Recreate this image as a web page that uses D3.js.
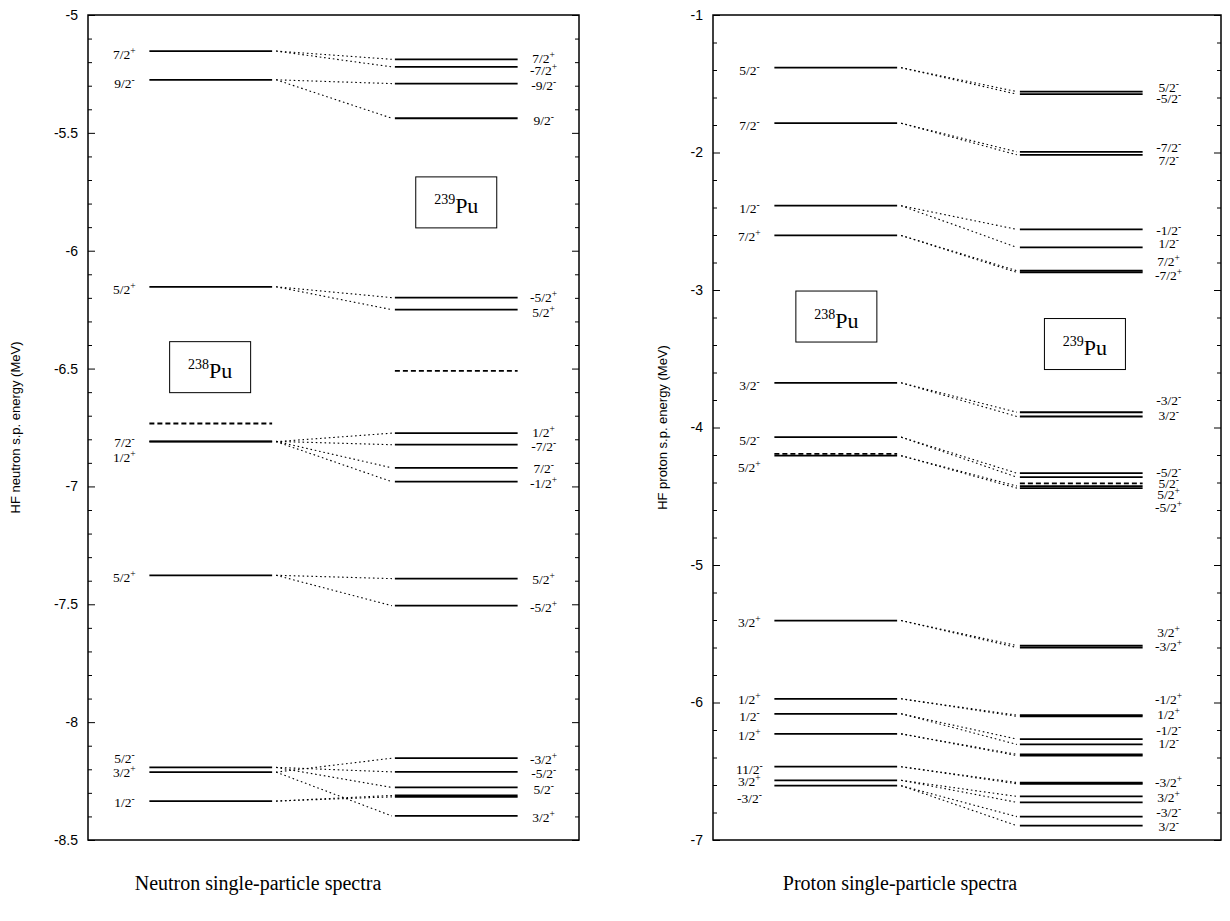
<!DOCTYPE html>
<html>
<head>
<meta charset="utf-8">
<script src="https://cdn.jsdelivr.net/npm/d3@7"></script>
<style>
  html, body { margin: 0; padding: 0; background: #fff; }
  svg { display: block; }
</style>
</head>
<body>
<svg id="chart" width="1230" height="921"></svg>
<script>
// ---- Neutron single-particle levels (MeV) ----
// e: level energy, j: angular momentum label, p: parity sign, lab: energy where the label sits
const neutron238 = [
  { e: -5.153, j: "7/2", p: "+", lab: -5.166 },
  { e: -5.275, j: "9/2", p: "-", lab: -5.290 },
  { e: -6.153, j: "5/2", p: "+", lab: -6.162 },
  { e: -6.809, j: "7/2", p: "-", lab: -6.810 },
  { e: -6.810, j: "1/2", p: "+", lab: -6.875 },
  { e: -7.377, j: "5/2", p: "+", lab: -7.384 },
  { e: -8.192, j: "5/2", p: "-", lab: -8.150 },
  { e: -8.212, j: "3/2", p: "+", lab: -8.212 },
  { e: -8.335, j: "1/2", p: "-", lab: -8.340 }
];
// src: index of the parent level in neutron238
const neutron239 = [
  { e: -5.188, j: "7/2",  p: "+", lab: -5.184, src: 0 },
  { e: -5.220, j: "-7/2", p: "+", lab: -5.232, src: 0 },
  { e: -5.291, j: "-9/2", p: "-", lab: -5.297, src: 1 },
  { e: -5.438, j: "9/2",  p: "-", lab: -5.444, src: 1 },
  { e: -6.199, j: "-5/2", p: "+", lab: -6.196, src: 2 },
  { e: -6.250, j: "5/2",  p: "+", lab: -6.258, src: 2 },
  { e: -6.774, j: "1/2",  p: "+", lab: -6.768, src: 4 },
  { e: -6.823, j: "-7/2", p: "-", lab: -6.828, src: 3 },
  { e: -6.921, j: "7/2",  p: "-", lab: -6.922, src: 3 },
  { e: -6.980, j: "-1/2", p: "+", lab: -6.984, src: 4 },
  { e: -7.391, j: "5/2",  p: "+", lab: -7.392, src: 5 },
  { e: -7.506, j: "-5/2", p: "+", lab: -7.510, src: 5 },
  { e: -8.153, j: "-3/2", p: "+", lab: -8.155, src: 7 },
  { e: -8.211, j: "-5/2", p: "-", lab: -8.216, src: 6 },
  { e: -8.277, j: "5/2",  p: "-", lab: -8.284, src: 6 },
  { e: -8.311, j: null,   p: null, lab: null,   src: 8 },
  { e: -8.317, j: null,   p: null, lab: null,   src: 8 },
  { e: -8.398, j: "3/2",  p: "+", lab: -8.402, src: 7 }
];
const neutronFermi238 = [-6.733];
const neutronFermi239 = [-6.510];
const neutronTicks = [-5, -5.5, -6, -6.5, -7, -7.5, -8, -8.5];

// ---- Proton single-particle levels (MeV) ----
const proton238 = [
  { e: -1.383, j: "5/2",  p: "-", lab: -1.400 },
  { e: -1.787, j: "7/2",  p: "-", lab: -1.800 },
  { e: -2.387, j: "1/2",  p: "-", lab: -2.405 },
  { e: -2.603, j: "7/2",  p: "+", lab: -2.608 },
  { e: -3.675, j: "3/2",  p: "-", lab: -3.693 },
  { e: -4.070, j: "5/2",  p: "-", lab: -4.092 },
  { e: -4.205, j: "5/2",  p: "+", lab: -4.290 },
  { e: -5.404, j: "3/2",  p: "+", lab: -5.412 },
  { e: -5.973, j: "1/2",  p: "+", lab: -5.975 },
  { e: -6.082, j: "1/2",  p: "-", lab: -6.097 },
  { e: -6.228, j: "1/2",  p: "+", lab: -6.236 },
  { e: -6.467, j: "11/2", p: "-", lab: -6.480 },
  { e: -6.566, j: "3/2",  p: "+", lab: -6.568 },
  { e: -6.605, j: "-3/2", p: "-", lab: -6.692 }
];
const proton239 = [
  { e: -1.557, j: "5/2",  p: "-", lab: -1.522, src: 0 },
  { e: -1.576, j: "-5/2", p: "-", lab: -1.605, src: 0 },
  { e: -1.995, j: "-7/2", p: "-", lab: -1.960, src: 1 },
  { e: -2.017, j: "7/2",  p: "-", lab: -2.051, src: 1 },
  { e: -2.559, j: "-1/2", p: "-", lab: -2.560, src: 2 },
  { e: -2.690, j: "1/2",  p: "-", lab: -2.661, src: 2 },
  { e: -2.860, j: "7/2",  p: "+", lab: -2.790, src: 3 },
  { e: -2.872, j: "-7/2", p: "+", lab: -2.888, src: 3 },
  { e: -3.889, j: "-3/2", p: "-", lab: -3.802, src: 4 },
  { e: -3.920, j: "3/2",  p: "-", lab: -3.911, src: 4 },
  { e: -4.332, j: "-5/2", p: "-", lab: -4.321, src: 5 },
  { e: -4.361, j: "5/2",  p: "-", lab: -4.405, src: 5 },
  { e: -4.426, j: "5/2",  p: "+", lab: -4.486, src: 6 },
  { e: -4.441, j: "-5/2", p: "+", lab: -4.577, src: 6 },
  { e: -5.586, j: "3/2",  p: "+", lab: -5.488, src: 7 },
  { e: -5.600, j: "-3/2", p: "+", lab: -5.586, src: 7 },
  { e: -6.092, j: "-1/2", p: "+", lab: -5.975, src: 8 },
  { e: -6.101, j: "1/2",  p: "+", lab: -6.084, src: 8 },
  { e: -6.266, j: "-1/2", p: "-", lab: -6.199, src: 9 },
  { e: -6.305, j: "1/2",  p: "-", lab: -6.293, src: 9 },
  { e: -6.377, j: null,   p: null, lab: null,  src: 10 },
  { e: -6.386, j: null,   p: null, lab: null,  src: 10 },
  { e: -6.582, j: null,   p: null, lab: null,  src: 11 },
  { e: -6.591, j: null,   p: null, lab: null,  src: 11 },
  { e: -6.683, j: "-3/2", p: "+", lab: -6.578, src: 12 },
  { e: -6.726, j: "3/2",  p: "+", lab: -6.688, src: 12 },
  { e: -6.830, j: "-3/2", p: "-", lab: -6.793, src: 13 },
  { e: -6.896, j: "3/2",  p: "-", lab: -6.895, src: 13 }
];
const protonFermi238 = [-4.192];
const protonFermi239 = [-4.407];
const protonTicks = [-1, -2, -3, -4, -5, -6, -7];

// ---- Drawing ----
const svg = d3.select("#chart");
const SERIF = "'Liberation Serif', 'Times New Roman', serif";
const SANS = "'Liberation Sans', Arial, Helvetica, sans-serif";

function drawPanel(opts) {
  const { left, top, width, height, domain, ticks, minorStep, yTitle,
          lev238, lev239, fermi238, fermi239, boxes, caption, captionX } = opts;

  const g = svg.append("g").attr("transform", `translate(${left},${top})`);
  // column scale: 238 levels span 1..3, 239 levels span 5..7
  const x = d3.scaleLinear().domain([0, 8]).range([0, 491]);
  const y = d3.scaleLinear().domain(domain).range([height, 0]);

  const minor = d3.range(domain[0], domain[1] + 1e-9, minorStep)
    .filter(v => !ticks.some(t => Math.abs(t - v) < 1e-6));

  // left axis: inward ticks, labels outside
  g.append("g")
    .call(d3.axisLeft(y).tickValues(ticks).tickSize(-7).tickPadding(10)
      .tickFormat(d => String(d)))
    .call(a => a.select(".domain").remove())
    .call(a => a.selectAll("text").attr("font-family", SANS).attr("font-size", 14).attr("fill", "#000"));
  g.append("g")
    .call(d3.axisLeft(y).tickValues(minor).tickSize(-4).tickFormat(""))
    .call(a => a.select(".domain").remove());
  // right axis: mirrored inward ticks
  g.append("g").attr("transform", `translate(${width},0)`)
    .call(d3.axisRight(y).tickValues(ticks).tickSize(-7).tickFormat(""))
    .call(a => a.select(".domain").remove());
  g.append("g").attr("transform", `translate(${width},0)`)
    .call(d3.axisRight(y).tickValues(minor).tickSize(-4).tickFormat(""))
    .call(a => a.select(".domain").remove());
  g.selectAll(".tick line").attr("stroke", "#000").attr("stroke-width", 1);

  // frame
  g.append("rect").attr("width", width).attr("height", height)
    .attr("fill", "none").attr("stroke", "#000").attr("stroke-width", 1.5);

  // y-axis title
  g.append("text")
    .attr("transform", `translate(${opts.titleX},${height / 2}) rotate(-90)`)
    .attr("text-anchor", "middle")
    .attr("font-family", SANS).attr("font-size", 13)
    .text(yTitle);

  // dotted connectors between the two nuclei
  g.append("g").selectAll("line").data(lev239).join("line")
    .attr("x1", x(3) + 4).attr("y1", d => y(lev238[d.src].e))
    .attr("x2", x(5) - 3).attr("y2", d => y(d.e))
    .attr("stroke", "#000").attr("stroke-width", 1.1)
    .attr("stroke-dasharray", "1.6,2.8");

  // Fermi levels (dashed)
  const fermiRows = fermi238.map(e => ({ e, a: 1, b: 3 }))
    .concat(fermi239.map(e => ({ e, a: 5, b: 7 })));
  g.append("g").selectAll("line").data(fermiRows).join("line")
    .attr("x1", d => x(d.a)).attr("x2", d => x(d.b))
    .attr("y1", d => y(d.e)).attr("y2", d => y(d.e))
    .attr("stroke", "#000").attr("stroke-width", 1.8)
    .attr("stroke-dasharray", "5,3");

  // single-particle levels
  const levelRows = lev238.map(d => ({ ...d, a: 1, b: 3 }))
    .concat(lev239.map(d => ({ ...d, a: 5, b: 7 })));
  g.append("g").selectAll("line").data(levelRows).join("line")
    .attr("x1", d => x(d.a)).attr("x2", d => x(d.b))
    .attr("y1", d => y(d.e)).attr("y2", d => y(d.e))
    .attr("stroke", "#000").attr("stroke-width", 1.8);

  // level labels with parity as superscript
  const labelRows = lev238.filter(d => d.j).map(d => ({ ...d, lx: x(1) - 25 }))
    .concat(lev239.filter(d => d.j).map(d => ({ ...d, lx: x(7) + 26 })));
  const lt = g.append("g").selectAll("text").data(labelRows).join("text")
    .attr("x", d => d.lx).attr("y", d => y(d.lab) + 5)
    .attr("text-anchor", "middle")
    .attr("font-family", SERIF);
  lt.append("tspan").attr("font-size", 13.5).text(d => d.j);
  lt.append("tspan").attr("font-size", 9.5).attr("dy", -5).text(d => d.p);

  // nucleus name boxes
  boxes.forEach(b => {
    const cx = x(b.x), cy = y(b.e);
    g.append("rect").attr("x", cx - 40.5).attr("y", cy - 25.5)
      .attr("width", 81).attr("height", 51)
      .attr("fill", "#fff").attr("stroke", "#000").attr("stroke-width", 1);
    const t = g.append("text").attr("x", cx).attr("y", cy + 11)
      .attr("text-anchor", "middle").attr("font-family", SERIF);
    t.append("tspan").attr("font-size", 14).attr("dy", -9).text(b.a);
    t.append("tspan").attr("font-size", 22).attr("dy", 9).text(b.sym);
  });

  // caption under the panel
  svg.append("text").attr("x", captionX).attr("y", 890)
    .attr("text-anchor", "middle")
    .attr("font-family", SERIF).attr("font-size", 20)
    .text(caption);
}

drawPanel({
  left: 88, top: 15, width: 491, height: 825,
  domain: [-8.5, -5], ticks: neutronTicks, minorStep: 0.1,
  yTitle: "HF neutron s.p. energy (MeV)", titleX: -68,
  lev238: neutron238, lev239: neutron239,
  fermi238: neutronFermi238, fermi239: neutronFermi239,
  boxes: [
    { a: "239", sym: "Pu", x: 6.0, e: -5.795 },
    { a: "238", sym: "Pu", x: 1.99, e: -6.494 }
  ],
  caption: "Neutron single-particle spectra", captionX: 258
});

drawPanel({
  left: 713, top: 15, width: 508, height: 825,
  domain: [-7, -1], ticks: protonTicks, minorStep: 0.2,
  yTitle: "HF proton s.p. energy (MeV)", titleX: -46,
  lev238: proton238, lev239: proton239,
  fermi238: protonFermi238, fermi239: protonFermi239,
  boxes: [
    { a: "238", sym: "Pu", x: 2.01, e: -3.193 },
    { a: "239", sym: "Pu", x: 6.06, e: -3.393 }
  ],
  caption: "Proton single-particle spectra", captionX: 900
});
</script>
</body>
</html>
